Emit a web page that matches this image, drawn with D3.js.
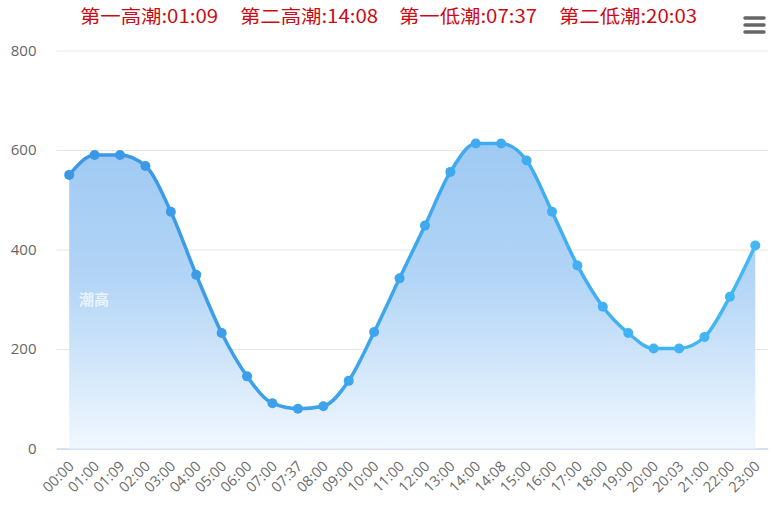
<!DOCTYPE html>
<html>
<head>
<meta charset="utf-8">
<script src="https://cdn.jsdelivr.net/npm/d3@7/dist/d3.min.js"></script>
<style>
html,body{margin:0;padding:0;background:#fff;}
svg{display:block;}
</style>
</head>
<body>
<svg id="chart" width="774" height="513"></svg>
<script>
const categories = ["00:00","01:00","01:09","02:00","03:00","04:00","05:00","06:00","07:00","07:37","08:00","09:00","10:00","11:00","12:00","13:00","14:00","14:08","15:00","16:00","17:00","18:00","19:00","20:00","20:03","21:00","22:00","23:00"];
const tideHeights = [550,590,590,568,476,349,232,145,91,80,85,136,234,342,448,556,613,613,579,476,368,285,232,201,201,224,305,408];
const yTicks = [0,200,400,600,800];
const titleParts = ["第一高潮:01:09","第二高潮:14:08","第一低潮:07:37","第二低潮:20:03"];
const seriesName = "潮高";

const svg = d3.select("#chart");
const plot = {left: 56.5, right: 768, top: 50.5, bottom: 448.5};

const x = d3.scaleBand().domain(categories).range([plot.left, plot.right]);
const cx = d => x(d) + x.bandwidth() / 2;
const y = d3.scaleLinear().domain([0, 800]).range([plot.bottom, plot.top]);

const defs = svg.append("defs");
const ag = defs.append("linearGradient").attr("id","areaGrad").attr("x1",0).attr("y1",0).attr("x2",0).attr("y2",1);
ag.append("stop").attr("offset","0%").attr("stop-color","#9fc9f3");
ag.append("stop").attr("offset","45%").attr("stop-color","#b3d5f6");
ag.append("stop").attr("offset","100%").attr("stop-color","#f1f7fe");
const lg = defs.append("linearGradient").attr("id","lineGrad").attr("gradientUnits","userSpaceOnUse")
  .attr("x1", cx(categories[0])).attr("y1",0).attr("x2", cx(categories[categories.length-1])).attr("y2",0);
lg.append("stop").attr("offset","0%").attr("stop-color","#3a96e6");
lg.append("stop").attr("offset","100%").attr("stop-color","#43b8f5");

// grid lines
const yAxis = d3.axisLeft(y).tickValues(yTicks).tickSize(-(plot.right - plot.left)).tickPadding(20);
const yg = svg.append("g").attr("transform", `translate(${plot.left},0)`).call(yAxis);
yg.select(".domain").remove();
yg.selectAll(".tick line").attr("stroke","#e6e6e6").attr("stroke-width",1);
yg.selectAll(".tick text").attr("fill","#666").attr("font-size","15px").attr("font-family","'Open Sans', sans-serif");
yg.selectAll(".tick").filter(d => d === 0).select("line").attr("stroke","#ccd6eb");

// x axis
const xAxis = d3.axisBottom(x).tickSize(0).tickPadding(0);
const xg = svg.append("g").attr("transform", `translate(0,${plot.bottom})`).call(xAxis);
xg.select(".domain").attr("stroke","#ccd6eb");
xg.selectAll(".tick text")
  .attr("fill","#6a6a6a").attr("font-size","14.5px").attr("font-family","'Open Sans', sans-serif")
  .attr("text-anchor","end").attr("dy","0.35em")
  .attr("transform","translate(2,15) rotate(-45)");

const data = categories.map((c,i) => ({c, v: tideHeights[i]}));

const area = d3.area().x(d => cx(d.c)).y0(plot.bottom).y1(d => y(d.v)).curve(d3.curveMonotoneX);
svg.append("path").datum(data).attr("d", area).attr("fill","url(#areaGrad)");

const line = d3.line().x(d => cx(d.c)).y(d => y(d.v)).curve(d3.curveMonotoneX);
svg.append("path").datum(data).attr("d", line).attr("fill","none")
  .attr("stroke","url(#lineGrad)").attr("stroke-width",3.5).attr("stroke-linejoin","round");

const colorAt = d3.interpolateRgb("#3a96e6","#43b8f5");
svg.append("g").selectAll("circle").data(data).join("circle")
  .attr("cx", d => cx(d.c)).attr("cy", d => y(d.v)).attr("r", 5)
  .attr("fill", (d,i) => colorAt(i/(data.length-1)));

// series label inside area
svg.append("text").attr("x", 79).attr("y", 305).text(seriesName)
  .attr("fill","#ffffff").attr("fill-opacity",0.7).attr("font-size","15px")
  .attr("font-family","'Noto Sans CJK SC', sans-serif").attr("font-weight","bold");

// title
const titleX = [80, 240, 399, 559];
svg.append("g").selectAll("text").data(titleParts).join("text")
  .attr("x", (d,i) => titleX[i]).attr("y", 23)
  .attr("textLength", 138).attr("lengthAdjust","spacingAndGlyphs")
  .attr("fill","#cc0a14").attr("font-size","18px")
  .attr("font-family","'Noto Sans CJK SC', sans-serif")
  .text(d => d);

// menu icon
svg.append("g").selectAll("line").data([18,25,32]).join("line")
  .attr("x1",745).attr("x2",764).attr("y1",d=>d).attr("y2",d=>d)
  .attr("stroke","#666").attr("stroke-width",3.5).attr("stroke-linecap","round");
</script>
</body>
</html>
